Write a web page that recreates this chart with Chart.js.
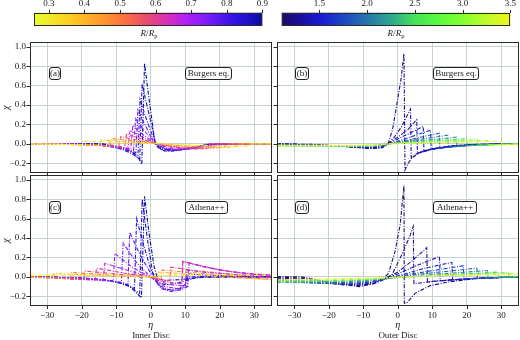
<!DOCTYPE html>
<html><head><meta charset="utf-8">
<script src="https://cdn.jsdelivr.net/npm/chart.js@4"></script>
<style>
html,body{margin:0;padding:0;background:#fff;}
body{width:520px;height:340px;position:relative;overflow:hidden;font-family:"Liberation Serif","DejaVu Serif",serif;color:#1a1a1a;}
canvas{position:absolute;}
.box{position:absolute;border:1px solid #222;border-radius:3px;background:#fff;font-size:9px;text-align:center;box-sizing:border-box;white-space:nowrap;}
.lbl{position:absolute;font-size:9px;white-space:nowrap;transform:translate(-50%,-50%);}
.lbl sub{font-size:6.5px;vertical-align:-2px;font-style:normal;}
</style></head><body>
<canvas id="cb1" width="272" height="30" style="left:0;top:0"></canvas>
<canvas id="cb2" width="248" height="30" style="left:272px;top:0"></canvas>
<canvas id="pc" width="274" height="175" style="left:0;top:165px"></canvas>
<canvas id="pd" width="273" height="175" style="left:247px;top:165px"></canvas>
<canvas id="pa" width="274" height="151" style="left:0;top:32px"></canvas>
<canvas id="pb" width="273" height="151" style="left:247px;top:32px"></canvas>

<div class="lbl" style="left:149px;top:33px"><i>R</i>/<i>R</i><sub>p</sub></div>
<div class="lbl" style="left:396px;top:33px"><i>R</i>/<i>R</i><sub>p</sub></div>

<div class="box" style="left:49px;top:67px;width:12px;height:13px;line-height:11px">(a)</div>
<div class="box" style="left:185px;top:67px;width:47px;height:13px;line-height:11px">Burgers eq.</div>
<div class="box" style="left:295px;top:67px;width:14px;height:13px;line-height:11px">(b)</div>
<div class="box" style="left:433px;top:67px;width:46px;height:13px;line-height:11px">Burgers eq.</div>
<div class="box" style="left:49px;top:201px;width:12px;height:13px;line-height:11px">(c)</div>
<div class="box" style="left:185px;top:201px;width:43px;height:13px;line-height:11px">Athena++</div>
<div class="box" style="left:295px;top:201px;width:14px;height:13px;line-height:11px">(d)</div>
<div class="box" style="left:433px;top:201px;width:44px;height:13px;line-height:11px">Athena++</div>

<div class="lbl" style="left:151px;top:335px">Inner Disc</div>
<div class="lbl" style="left:398px;top:335px">Outer Disc</div>

<script>
// ---------- tick labels ----------
const etaTicks = [-30, -20, -10, 0, 10, 20, 30];
const chiTicks = [-0.2, 0.0, 0.2, 0.4, 0.6, 0.8, 1.0];
const innerTicks = [0.3, 0.4, 0.5, 0.6, 0.7, 0.8, 0.9];
const outerTicks = [1.5, 2.0, 2.5, 3.0, 3.5];
const innerRange = [0.259, 0.9];
const outerRange = [1.106, 3.5];

// ---------- (a) Burgers eq., inner disc ----------
const aR = [0.90, 0.86, 0.82, 0.78, 0.74, 0.70, 0.66, 0.62, 0.56, 0.48, 0.40, 0.30];
const aEta = [
  [-35, -14, -10, -7, -5, -3.6, -2.6, -1.8, -1.0, 0.0, 1.3, 2.5, 4, 6, 9, 12, 16, 35],
  [-35, -16, -12, -8, -5, -3.2, -2.5, -1, 0.4, 1.4, 3, 5, 8, 12, 17, 35],
  [-35, -18, -13, -9, -6, -3.7, -3.1, -1.5, 0, 1.5, 3, 6, 9, 13, 18, 35],
  [-35, -20, -14, -9, -4.3, -3.7, -2, 0, 1.6, 4, 7, 10, 14, 19, 35],
  [-35, -22, -15, -10, -5.0, -4.4, -2, 0, 1.7, 4, 8, 11, 15, 20, 35],
  [-35, -24, -16, -10, -5.8, -5.2, -2.5, 0, 1.8, 5, 9, 13, 17, 21, 35],
  [-35, -26, -18, -11, -6.6, -6.0, -3, 0, 1.9, 6, 11, 14, 16, 35],
  [-35, -28, -20, -12, -7.6, -7.0, -3, 0, 2, 7, 13, 16, 17.5, 35],
  [-35, -30, -22, -15, -9.3, -8.7, -4, 0, 2.2, 8, 15, 18, 19.5, 35],
  [-35, -32, -24, -12, -11.4, -5, 0, 2.5, 10, 18, 21, 22.5, 35],
  [-35, -26, -15, -14.4, -6, 0, 3, 12, 21, 24, 25.5, 35],
  [-35, -28, -20, -19.4, -8, 0, 4, 14, 24, 28, 29.5, 35]
];
const aChi = [
  [0, 0, -0.02, -0.05, -0.09, -0.14, -0.21, 0.83, 0.60, 0.33, 0.0, -0.05, -0.072, -0.075, -0.06, -0.035, -0.01, 0],
  [0, 0, -0.02, -0.06, -0.11, -0.16, 0.62, 0.38, 0.17, 0.0, -0.055, -0.07, -0.06, -0.035, -0.005, 0],
  [0, 0, -0.015, -0.04, -0.08, -0.12, 0.46, 0.28, 0.13, 0.0, -0.045, -0.068, -0.06, -0.035, -0.005, 0],
  [0, 0, -0.015, -0.045, -0.09, 0.35, 0.22, 0.08, 0.0, -0.05, -0.065, -0.055, -0.03, 0, 0],
  [0, 0, -0.01, -0.035, -0.07, 0.26, 0.14, 0.06, 0.0, -0.045, -0.062, -0.05, -0.025, 0, 0],
  [0, 0, -0.01, -0.03, -0.055, 0.19, 0.1, 0.04, 0.0, -0.045, -0.058, -0.045, -0.02, 0, 0],
  [0, 0, -0.01, -0.025, -0.045, 0.14, 0.08, 0.03, 0.0, -0.04, -0.055, -0.05, 0.0, 0],
  [0, 0, -0.008, -0.02, -0.035, 0.105, 0.055, 0.02, 0.0, -0.035, -0.05, -0.05, 0.0, 0],
  [0, 0, -0.006, -0.015, -0.028, 0.075, 0.04, 0.015, 0.0, -0.03, -0.045, -0.045, 0, 0],
  [0, 0, -0.006, -0.02, 0.055, 0.03, 0.01, 0.0, -0.025, -0.04, -0.04, 0, 0],
  [0, -0.005, -0.015, 0.04, 0.02, 0.008, 0.0, -0.02, -0.035, -0.035, 0, 0],
  [0, -0.004, -0.01, 0.028, 0.012, 0.004, 0.0, -0.015, -0.025, -0.025, 0, 0]
];

// ---------- (b) Burgers eq., outer disc ----------
const bR = [1.2, 1.3, 1.4, 1.5, 1.65, 1.8, 2.0, 2.2, 2.5, 2.8, 3.1, 3.5];
const bEta = [
  [-35, -25, -18, -12, -7, -4.5, -2.8, -1.5, -0.3, 1.0, 1.8, 2.1, 3, 4, 5.5, 7.5, 10, 15, 22, 35],
  [-35, -25, -16, -9, -5, -2.8, -1, 1, 3.7, 3.9, 5, 7, 10, 14, 20, 28, 35],
  [-35, -24, -15, -8, -5, -2.8, 0, 3, 5.5, 5.7, 7, 10, 14, 20, 28, 35],
  [-35, -22, -14, -8, -2.8, 0, 4, 7.4, 7.6, 10, 14, 20, 30, 35],
  [-35, -20, -12, -6, -2.8, 2, 6, 9.5, 9.7, 13, 18, 25, 35],
  [-35, -20, -10, -2.8, 3, 8, 12, 12.2, 16, 22, 30, 35],
  [-35, -22, -10, -2.8, 4, 10, 14.5, 14.7, 19, 26, 35],
  [-35, -20, -8, -2.8, 5, 12, 17, 17.2, 22, 30, 35],
  [-35, -20, -8, -2.8, 6, 14, 20, 20.2, 26, 35],
  [-35, -18, -6, -2.8, 8, 16, 23, 23.2, 30, 35],
  [-35, -18, -6, -2.8, 10, 20, 26, 26.2, 32, 35],
  [-35, -15, -5, -2.8, 12, 24, 30, 30.2, 35]
];
const bChi = [
  [0, -0.005, -0.02, -0.035, -0.048, -0.04, 0.0, 0.15, 0.4, 0.68, 0.93, -0.27, -0.2, -0.15, -0.11, -0.075, -0.05, -0.02, -0.005, 0],
  [0, -0.01, -0.025, -0.045, -0.04, 0.0, 0.07, 0.17, 0.36, -0.14, -0.11, -0.075, -0.05, -0.03, -0.012, 0, 0],
  [0, -0.01, -0.025, -0.045, -0.035, 0.0, 0.07, 0.15, 0.25, -0.10, -0.08, -0.055, -0.035, -0.015, 0, 0],
  [0, -0.012, -0.028, -0.04, 0.0, 0.05, 0.12, 0.18, -0.08, -0.055, -0.035, -0.015, 0, 0],
  [0, -0.015, -0.03, -0.035, 0.0, 0.05, 0.1, 0.14, -0.06, -0.04, -0.02, -0.005, 0],
  [-0.01, -0.02, -0.03, 0.0, 0.04, 0.08, 0.11, -0.045, -0.03, -0.015, -0.003, 0],
  [-0.012, -0.022, -0.028, 0.0, 0.035, 0.065, 0.09, -0.035, -0.02, -0.008, 0],
  [-0.015, -0.025, -0.025, 0.0, 0.03, 0.05, 0.07, -0.028, -0.015, -0.005, 0],
  [-0.018, -0.025, -0.022, 0.0, 0.025, 0.04, 0.055, -0.02, -0.01, 0],
  [-0.02, -0.022, -0.018, 0.0, 0.02, 0.032, 0.045, -0.015, -0.006, 0],
  [-0.02, -0.02, -0.014, 0.0, 0.018, 0.027, 0.035, -0.01, -0.004, 0],
  [-0.015, -0.016, -0.01, 0.0, 0.015, 0.022, 0.028, -0.008, -0.004]
];

// ---------- (c) Athena++, inner disc ----------
const cR = [0.90, 0.87, 0.83, 0.79, 0.75, 0.71, 0.67, 0.63, 0.57, 0.49, 0.40, 0.30];
const cEta = [
  [-35, -22, -15, -10, -6, -2.7, -1.8, -0.5, 1, 2, 4, 8, 12, 16, 35],
  [-35, -20, -12, -7, -3.2, -2.5, -1, 0.5, 2, 4, 7, 10, 14, 35],
  [-35, -20, -13, -8, -4.7, -4.1, -2, 0, 2, 5, 8, 10, 10.5, 14, 35],
  [-35, -20, -12, -6.6, -6.1, -3, 0, 3, 6, 9, 10.5, 10.8, 15, 22, 35],
  [-35, -22, -14, -8.5, -8.0, -4, 0, 4, 7, 10, 10.4, 15, 22, 30, 35],
  [-35, -24, -16, -10.9, -10.4, -5, 0, 4, 8, 10.8, 11.1, 17, 24, 32, 35],
  [-35, -25, -18, -13.8, -13.3, -6, 0, 5, 9, 9.3, 15, 22, 30, 35],
  [-35, -26, -16.2, -15.7, -8, 0, 4, 9, 9.3, 14, 20, 28, 35],
  [-35, -28, -19.5, -19, -10, 0, 3, 5.5, 5.8, 12, 20, 28, 35],
  [-35, -30, -23.5, -23, -12, 0, 3, 3.3, 10, 20, 28, 35],
  [-35, -28.5, -28, -15, 0, 2, 2.3, 10, 20, 35],
  [-35, -20, -5, 0, 10, 20, 30, 35]
];
const cChi = [
  [0, -0.02, -0.03, -0.05, -0.1, -0.215, 0.83, 0.45, 0.1, -0.02, -0.035, -0.03, -0.015, 0, 0],
  [0, -0.01, -0.04, -0.08, -0.17, 0.80, 0.4, 0.05, -0.05, -0.08, -0.07, -0.04, 0, 0],
  [0, -0.01, -0.03, -0.06, -0.12, 0.60, 0.32, 0.08, -0.08, -0.13, -0.12, -0.08, 0.0, 0.0, 0],
  [0, -0.01, -0.04, -0.08, 0.46, 0.22, 0.04, -0.12, -0.15, -0.13, -0.1, 0.03, 0.02, 0.01, 0],
  [0, -0.01, -0.03, -0.06, 0.35, 0.14, 0.0, -0.13, -0.14, -0.1, 0.07, 0.05, 0.03, 0.01, 0],
  [0, -0.01, -0.025, -0.05, 0.24, 0.09, 0.0, -0.1, -0.12, -0.1, 0.14, 0.09, 0.05, 0.02, 0.015],
  [0, -0.01, -0.02, -0.04, 0.14, 0.06, 0.0, -0.08, -0.09, 0.16, 0.11, 0.06, 0.03, 0.02],
  [0, -0.015, -0.035, 0.09, 0.04, 0.0, -0.05, -0.07, 0.16, 0.12, 0.07, 0.03, 0.01],
  [0, -0.01, -0.025, 0.06, 0.03, 0.0, -0.03, -0.04, 0.1, 0.07, 0.04, 0.01, -0.01],
  [0, -0.008, -0.02, 0.045, 0.02, 0.0, -0.02, 0.07, 0.05, 0.02, -0.01, -0.025],
  [-0.005, -0.015, 0.035, 0.015, 0.0, -0.01, 0.05, 0.03, 0.0, -0.03],
  [0.02, 0.015, 0.01, 0.005, 0.02, 0.02, 0.015, 0.02]
];

// ---------- (d) Athena++, outer disc ----------
const dR = [1.15, 1.25, 1.35, 1.45, 1.6, 1.75, 1.9, 2.1, 2.4, 2.7, 3.1, 3.5];
const dEta = [
  [-35, -28, -22, -16, -11, -7, -4, -2.7, -0.8, 0.7, 1.8, 1.9, 2.6, 5, 9.4, 15, 22, 30, 35],
  [-35, -26, -18, -12, -7, -3.5, -1.7, 1.6, 3.5, 4.5, 4.7, 7, 11, 16, 24, 35],
  [-35, -26, -18, -11, -6, -3, 0, 4, 8.4, 8.6, 12, 18, 26, 35],
  [-35, -25, -16, -9, -4, 0, 5, 12.1, 12.3, 16, 22, 30, 35],
  [-35, -24, -15, -8, -3, 2, 8, 15.7, 15.9, 20, 28, 35],
  [-35, -24, -14, -7, -2, 4, 11, 19, 19.2, 25, 35],
  [-35, -22, -12, -5, 0, 8, 15, 22.9, 23.1, 30, 35],
  [-35, -22, -12, -4, 2, 10, 18, 26, 26.2, 32, 35],
  [-35, -20, -10, -2, 5, 14, 22, 29, 29.2, 35],
  [-35, -20, -8, 0, 10, 20, 32, 32.2, 35],
  [-35, -20, -6, 2, 12, 24, 35],
  [-35, -20, -5, 5, 15, 25, 35]
];
const dChi = [
  [0, 0.0, -0.04, -0.08, -0.1, -0.07, -0.01, 0.035, 0.26, 0.54, 0.94, -0.27, -0.27, -0.17, -0.09, -0.05, -0.02, -0.005, 0],
  [0, -0.02, -0.06, -0.09, -0.07, -0.01, 0.02, 0.26, 0.42, 0.52, -0.07, -0.06, -0.045, -0.03, -0.01, 0],
  [-0.01, -0.03, -0.07, -0.085, -0.06, -0.01, 0.05, 0.16, 0.30, -0.05, -0.04, -0.025, -0.01, 0],
  [-0.02, -0.05, -0.08, -0.07, -0.02, 0.03, 0.11, 0.21, -0.04, -0.03, -0.018, -0.008, 0],
  [-0.03, -0.06, -0.075, -0.06, -0.015, 0.03, 0.09, 0.15, -0.03, -0.02, -0.01, 0],
  [-0.04, -0.065, -0.07, -0.05, -0.01, 0.03, 0.07, 0.115, -0.02, -0.012, 0],
  [-0.05, -0.065, -0.055, -0.03, 0.0, 0.035, 0.06, 0.09, -0.015, -0.005, 0],
  [-0.055, -0.06, -0.045, -0.02, 0.0, 0.025, 0.045, 0.065, -0.01, -0.003, 0],
  [-0.05, -0.05, -0.035, -0.01, 0.005, 0.025, 0.035, 0.05, -0.005, 0],
  [-0.045, -0.04, -0.025, -0.005, 0.015, 0.025, 0.045, 0.0, 0.005],
  [-0.035, -0.03, -0.015, 0.0, 0.015, 0.025, 0.035],
  [-0.03, -0.022, -0.01, 0.005, 0.015, 0.02, 0.028]
];

// ---------- styles ----------
const innerStops = [[0,'#e6ff2c'],[0.16,'#ffcc20'],[0.32,'#ff9030'],[0.42,'#f86848'],[0.5,'#e84872'],[0.58,'#d832b4'],[0.66,'#b420f4'],[0.76,'#7a1cf8'],[0.87,'#3414e4'],[1,'#0a0aa6']];
const outerStops = [[0,'#1e0a66'],[0.08,'#1c0e9c'],[0.17,'#1a1ad2'],[0.28,'#1e4cc0'],[0.38,'#2878a8'],[0.48,'#30a890'],[0.58,'#44e058'],[0.68,'#58fa40'],[0.8,'#88ff30'],[0.9,'#c0fc28'],[1,'#f0f418']];
const gridColor = '#c6d1d5';
const axisColor = '#2a2a2a';
const textColor = '#1a1a1a';
const serif = '"Liberation Serif", "DejaVu Serif", serif';

function hexToRgb(h){return [parseInt(h.slice(1,3),16),parseInt(h.slice(3,5),16),parseInt(h.slice(5,7),16)];}
function colorAt(stops,t){
  t=Math.max(0,Math.min(1,t));
  for(let i=1;i<stops.length;i++){
    if(t<=stops[i][0]){
      const a=stops[i-1],b=stops[i],f=(t-a[0])/(b[0]-a[0]);
      const ca=hexToRgb(a[1]),cb=hexToRgb(b[1]);
      return 'rgb('+ca.map((c,k)=>Math.round(c+(cb[k]-c)*f)).join(',')+')';
    }
  }
  return stops[stops.length-1][1];
}
const fmt=(v,d)=>(v<-1e-9?'\u2212':'')+Math.abs(v).toFixed(d);

function crispRect(ctx,a){
  const L=Math.round(a.left)+0.5,T=Math.round(a.top)+0.5,R=Math.round(a.right)-0.5,B=Math.round(a.bottom)-0.5;
  ctx.strokeRect(L,T,R-L,B-T);
}

// frame + outward tick marks, positioned through the chart's own scales
const framePlugin={id:'frame',afterDraw(chart){
  const {ctx,chartArea:a,scales}=chart;ctx.save();
  ctx.strokeStyle=axisColor;ctx.lineWidth=1;ctx.beginPath();
  const B=Math.round(a.bottom),L=Math.round(a.left);
  scales.x.ticks.forEach(t=>{const px=Math.round(scales.x.getPixelForValue(t.value))+0.5;ctx.moveTo(px,B);ctx.lineTo(px,B+3);});
  scales.y.ticks.forEach(t=>{const py=Math.round(scales.y.getPixelForValue(t.value))+0.5;ctx.moveTo(L,py);ctx.lineTo(L-3.5,py);});
  ctx.stroke();
  crispRect(ctx,a);ctx.restore();}};

function panel(id,R,ETA,CHI,stops,range,o){
  const ds=R.map((r,i)=>({
    data:ETA[i].map((x,j)=>({x:x,y:CHI[i][j]})),
    borderColor:colorAt(stops,(r-range[0])/(range[1]-range[0])),
    borderWidth:1.1,borderDash:[4,1.5,1,1.5],showLine:true,pointRadius:0,fill:false,tension:0
  })).reverse();
  const yc=o.ylab?textColor:'rgba(0,0,0,0)';
  new Chart(document.getElementById(id),{
    type:'scatter',data:{datasets:ds},
    options:{animation:false,responsive:false,devicePixelRatio:1,events:[],
      layout:{padding:o.pad},
      plugins:{legend:{display:false},tooltip:{enabled:false}},
      scales:{
        x:{type:'linear',min:-35,max:35,
          afterBuildTicks:s=>{s.ticks=etaTicks.map(v=>({value:v}));},
          afterFit:s=>{s.height=o.xh;},
          grid:{color:gridColor,drawTicks:false,lineWidth:1},
          border:{display:false},
          ticks:{display:o.xlab,padding:4,color:textColor,autoSkip:false,maxRotation:0,font:{family:serif,size:9},callback:v=>fmt(v,0)},
          title:{display:o.xlab,text:'\u03b7',color:textColor,font:{family:serif,size:10,style:'italic'},padding:{top:0,bottom:5}}
        },
        y:{type:'linear',min:-0.3,max:1.05,
          afterBuildTicks:s=>{s.ticks=chiTicks.map(v=>({value:v}));},
          afterFit:s=>{s.width=30;},
          grid:{color:gridColor,drawTicks:false,lineWidth:1},
          border:{display:false},
          ticks:{display:true,padding:4,color:yc,autoSkip:false,font:{family:serif,size:9},callback:v=>fmt(v,1)},
          title:{display:true,text:'\u03c7',color:yc,font:{family:serif,size:10,style:'italic'},padding:0}
        }
      }
    },
    plugins:[framePlugin]
  });
}

function colorbar(id,stops,range,ticks,pad){
  const grad={id:'grad',beforeDatasetsDraw(chart){
    const {ctx,chartArea:a,scales}=chart;
    const g=ctx.createLinearGradient(a.left,0,a.right,0);
    stops.forEach(s=>g.addColorStop(s[0],s[1]));
    ctx.save();ctx.fillStyle=g;ctx.fillRect(a.left,a.top,a.right-a.left,a.bottom-a.top);
    ctx.strokeStyle=axisColor;ctx.lineWidth=1;crispRect(ctx,a);
    ctx.beginPath();
    const T=Math.round(a.top);
    scales.x.ticks.forEach(t=>{const px=Math.round(scales.x.getPixelForValue(t.value))+0.5;ctx.moveTo(px,T);ctx.lineTo(px,T-3);});
    ctx.stroke();ctx.restore();}};
  new Chart(document.getElementById(id),{
    type:'scatter',data:{datasets:[]},
    options:{animation:false,responsive:false,devicePixelRatio:1,events:[],
      layout:{padding:pad},
      plugins:{legend:{display:false},tooltip:{enabled:false}},
      scales:{
        x:{type:'linear',position:'top',min:range[0],max:range[1],
          afterBuildTicks:s=>{s.ticks=ticks.map(v=>({value:v}));},
          afterFit:s=>{s.height=12.7;},
          grid:{display:false,drawTicks:false},
          border:{display:false},
          ticks:{padding:4,color:textColor,autoSkip:false,maxRotation:0,font:{family:serif,size:9},callback:v=>v.toFixed(1)}
        },
        y:{display:false,min:0,max:1}
      }
    },
    plugins:[grad]
  });
}

colorbar('cb1',innerStops,innerRange,innerTicks,{left:34.3,right:9,top:0,bottom:4});
colorbar('cb2',outerStops,outerRange,outerTicks,{left:9.7,right:9,top:0,bottom:4});
panel('pa',aR,aEta,aChi,innerStops,innerRange,{pad:{top:10,left:0,right:2.5,bottom:6},xh:4,xlab:false,ylab:true});
panel('pb',bR,bEta,bChi,outerStops,outerRange,{pad:{top:10,left:0,right:1.5,bottom:6},xh:4,xlab:false,ylab:false});
panel('pc',cR,cEta,cChi,innerStops,innerRange,{pad:{top:10,left:0,right:2.5,bottom:4},xh:30,xlab:true,ylab:true});
panel('pd',dR,dEta,dChi,outerStops,outerRange,{pad:{top:10,left:0,right:1.5,bottom:4},xh:30,xlab:true,ylab:false});
</script>
</body></html>
